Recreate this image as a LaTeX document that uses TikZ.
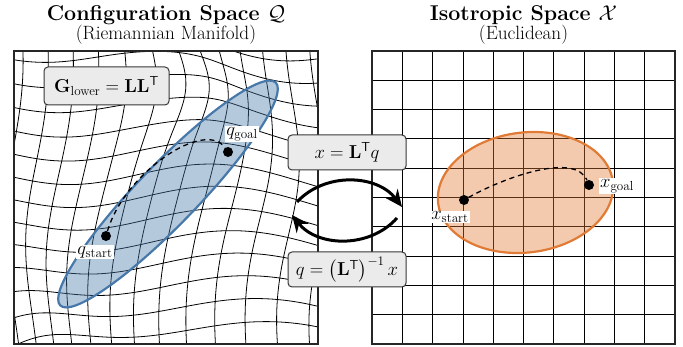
\RequirePackage{fix-cm}
\documentclass[tikz,border=0pt]{standalone}
\usepackage{amsmath,amssymb}
\usepackage{xcolor}
\usetikzlibrary{arrows.meta,positioning}
\definecolor{dBlue}{RGB}{70,120,170}
\definecolor{dOrange}{RGB}{224,122,52}
\definecolor{fGray}{RGB}{235,235,235}
\definecolor{dGray}{RGB}{55,55,55}
\pgfmathdeclarefunction{wdx}{2}{%
  \begingroup
  \pgfmathparse{-0.18*sin(90*((#1)+1))*(1-(#2))/2+0.10*exp(-(((#1)-0.05)*((#1)-0.05)+((#2)-0.75)*((#2)-0.75))/0.12)+0.06*sin(150*(#2)+60*(#1))}%
  \pgfmathsmuggle\pgfmathresult
  \endgroup}
\pgfmathdeclarefunction{wdy}{2}{%
  \begingroup
  \pgfmathparse{0.13*cos(90*((#1)-0.3))*(1-(#2))/2-0.16*((#1)+1)/2*((#2)+1)/2+0.07*sin(200*(#1)+100*(#2))}%
  \pgfmathsmuggle\pgfmathresult
  \endgroup}

\begin{document}
\begin{tikzpicture}[x=1pt,y=1pt,font=\fontsize{18.7}{22}\selectfont,
  ttl/.style={anchor=base,font=\fontsize{21.4}{25}\selectfont\bfseries},
  sub/.style={anchor=base,font=\fontsize{19.2}{23}\selectfont},
  frame/.style={draw=black!85,line width=1.4pt,minimum width=304,minimum height=293,inner sep=0},
  gl/.style={line width=0.8pt},
  lbox/.style={draw=dGray,fill=fGray,rounded corners=4pt,line width=1pt,minimum width=118,minimum height=35,inner sep=2pt},
  dot/.style={circle,fill=black,inner sep=0,minimum size=10},
  plab/.style={fill=white,inner sep=1pt},
  trj/.style={dash pattern=on 5pt off 4pt,line width=1.3pt},
  flip/.style={-{Stealth[length=17pt,width=15pt]},line width=3pt}]
\useasboundingbox (0,0) rectangle (683,347);
\def\qx{166}\def\qy{149.5}
% left: warped grid
\begin{scope}
\clip (14,3) rectangle (318,296);
\foreach \i in {-9,...,9}{
  \draw[gl] plot[domain=-1.5:1.5,samples=40,smooth,variable=\t]
    ({\qx+152*(\i/6+wdx(\i/6,\t))},{\qy+146.5*(\t+wdy(\i/6,\t))});
  \draw[gl] plot[domain=-1.5:1.5,samples=40,smooth,variable=\t]
    ({\qx+152*(\t+wdx(\t,\i/6))},{\qy+146.5*(\i/6+wdy(\t,\i/6))});
}
\end{scope}
\node[frame] (qbox) at (\qx,\qy) {};
% right: euclidean grid
\foreach \k in {1,...,9}{
  \draw[gl] (372+\k*30.3,3) -- ++(0,293);
  \draw[gl] (372,3+\k*29.3) -- ++(303,0);
}
\node[frame,minimum width=303] (xbox) at (523.5,149.5) {};
\node[ttl] (qttl) at (\qx,326.5) {Configuration Space $\mathcal{Q}$};
\node[sub] (qsub) at (\qx,307) {(Riemannian Manifold)};
\node[ttl] (xttl) at (523.5,326.5) {Isotropic Space $\mathcal{X}$};
\node[sub] (xsub) at (523.5,307) {(Euclidean)};
% ellipses
\draw[dBlue,line width=2.2pt,fill=dBlue,fill opacity=0.4,rotate around={46:(168,153)}] (168,153) ellipse [x radius=155,y radius=30];
\draw[dOrange,line width=2.2pt,fill=dOrange,fill opacity=0.4,rotate around={7:(525.5,154.5)}] (525.5,154.5) ellipse [x radius=88,y radius=60];
% trajectories
\node[dot] (qs) at (106,111) {};
\node[dot] (qg) at (228,195) {};
\node[dot] (xs) at (464,147) {};
\node[dot] (xg) at (589,162) {};
\draw[trj] (qs) .. controls (125,175) and (205,228) .. (qg);
\draw[trj] (xs) .. controls (505,170) and (575,195) .. (xg);
\node[plab] at (95,95) {$q_{\mathrm{start}}$};
\node[plab] at (242,213) {$q_{\mathrm{goal}}$};
\node[plab] at (450,130) {$x_{\mathrm{start}}$};
\node[plab] at (617,161) {$x_{\mathrm{goal}}$};
% labels and maps
\node[lbox,minimum width=125,minimum height=38] (metric) at (106.5,261) {$\mathbf{G}_{\text{lower}}=\mathbf{L}\mathbf{L}^{\mathsf{T}}$};
\node[lbox] (fwd) at (347,194.5) {$x=\mathbf{L}^{\mathsf{T}}q$};
\node[lbox] (bwd) at (347,77.5) {$q=\left(\mathbf{L}^{\mathsf{T}}\right)^{-1}x$};
\coordinate (fwdS) at (297,145);
\coordinate (fwdE) at (402,140);
\coordinate (bwdS) at (397,129);
\coordinate (bwdE) at (292,132);
\draw[flip] (fwdS) to[bend left=50] (fwdE);
\draw[flip] (bwdS) to[bend left=50] (bwdE);
\end{tikzpicture}
\end{document}
